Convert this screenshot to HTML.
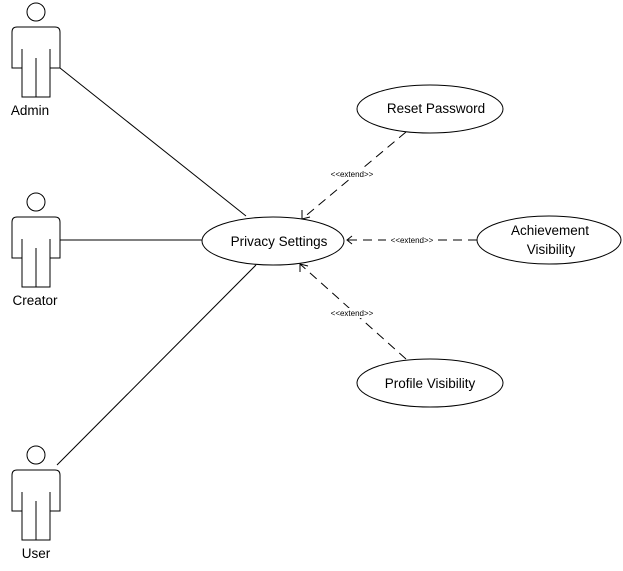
<!DOCTYPE html>
<html><head><meta charset="utf-8"><style>
html,body{margin:0;padding:0;background:#fff;width:623px;height:571px;overflow:hidden}
svg text{font-family:"Liberation Sans",sans-serif;fill:#000}
</style></head><body>
<svg width="623" height="571" viewBox="0 0 623 571" xmlns="http://www.w3.org/2000/svg">
<defs>
<g id="actor" fill="none" stroke="#000" stroke-width="1">
<circle cx="36" cy="12" r="9" fill="#fff"/>
<path d="M12,32 Q12,27 17,27 L55,27 Q60,27 60,32 L60,68 L50,68 L50,97 L22,97 L22,68 L12,68 Z" fill="#fff"/>
<line x1="22" y1="49" x2="22" y2="68"/>
<line x1="50" y1="49" x2="50" y2="68"/>
<line x1="36" y1="58" x2="36" y2="97"/>
</g>
</defs>
<g stroke="#000" stroke-width="1" fill="none">
<line x1="60" y1="68" x2="246" y2="216"/>
<line x1="60" y1="240" x2="202" y2="240"/>
<line x1="57" y1="465" x2="256" y2="265"/>
<g stroke-dasharray="9,6">
<line x1="406" y1="132" x2="302" y2="219"/>
<line x1="477" y1="240" x2="347" y2="240"/>
<line x1="406" y1="359" x2="300" y2="264"/>
</g>
<polyline points="302,210 302,219 310,217"/>
<polyline points="352,236 347,240 352,244"/>
<polyline points="300,272 300,264 308,266"/>
</g>
<use href="#actor" x="0" y="0"/>
<use href="#actor" x="0" y="190"/>
<use href="#actor" x="0" y="443"/>
<g fill="#fff" stroke="#000" stroke-width="1">
<ellipse cx="273" cy="241" rx="71" ry="24"/>
<ellipse cx="430" cy="109" rx="73" ry="24"/>
<ellipse cx="549" cy="240" rx="72" ry="24"/>
<ellipse cx="430" cy="383" rx="73" ry="24"/>
</g>
<rect x="326" y="169" width="52" height="10" fill="#fff"/>
<rect x="386" y="235" width="52" height="10" fill="#fff"/>
<rect x="326" y="308" width="52" height="10" fill="#fff"/>
<g font-size="8" text-anchor="middle">
<text x="352" y="177">&lt;&lt;extend&gt;&gt;</text>
<text x="412" y="243">&lt;&lt;extend&gt;&gt;</text>
<text x="352" y="316">&lt;&lt;extend&gt;&gt;</text>
</g>
<g font-size="13.5" text-anchor="middle">
<text x="279" y="246">Privacy Settings</text>
<text x="436" y="113">Reset Password</text>
<text x="550" y="235">Achievement</text>
<text x="551" y="254">Visibility</text>
<text x="430" y="388">Profile Visibility</text>
<text x="30" y="115">Admin</text>
<text x="35" y="305">Creator</text>
<text x="36" y="558">User</text>
</g>
</svg>
</body></html>
